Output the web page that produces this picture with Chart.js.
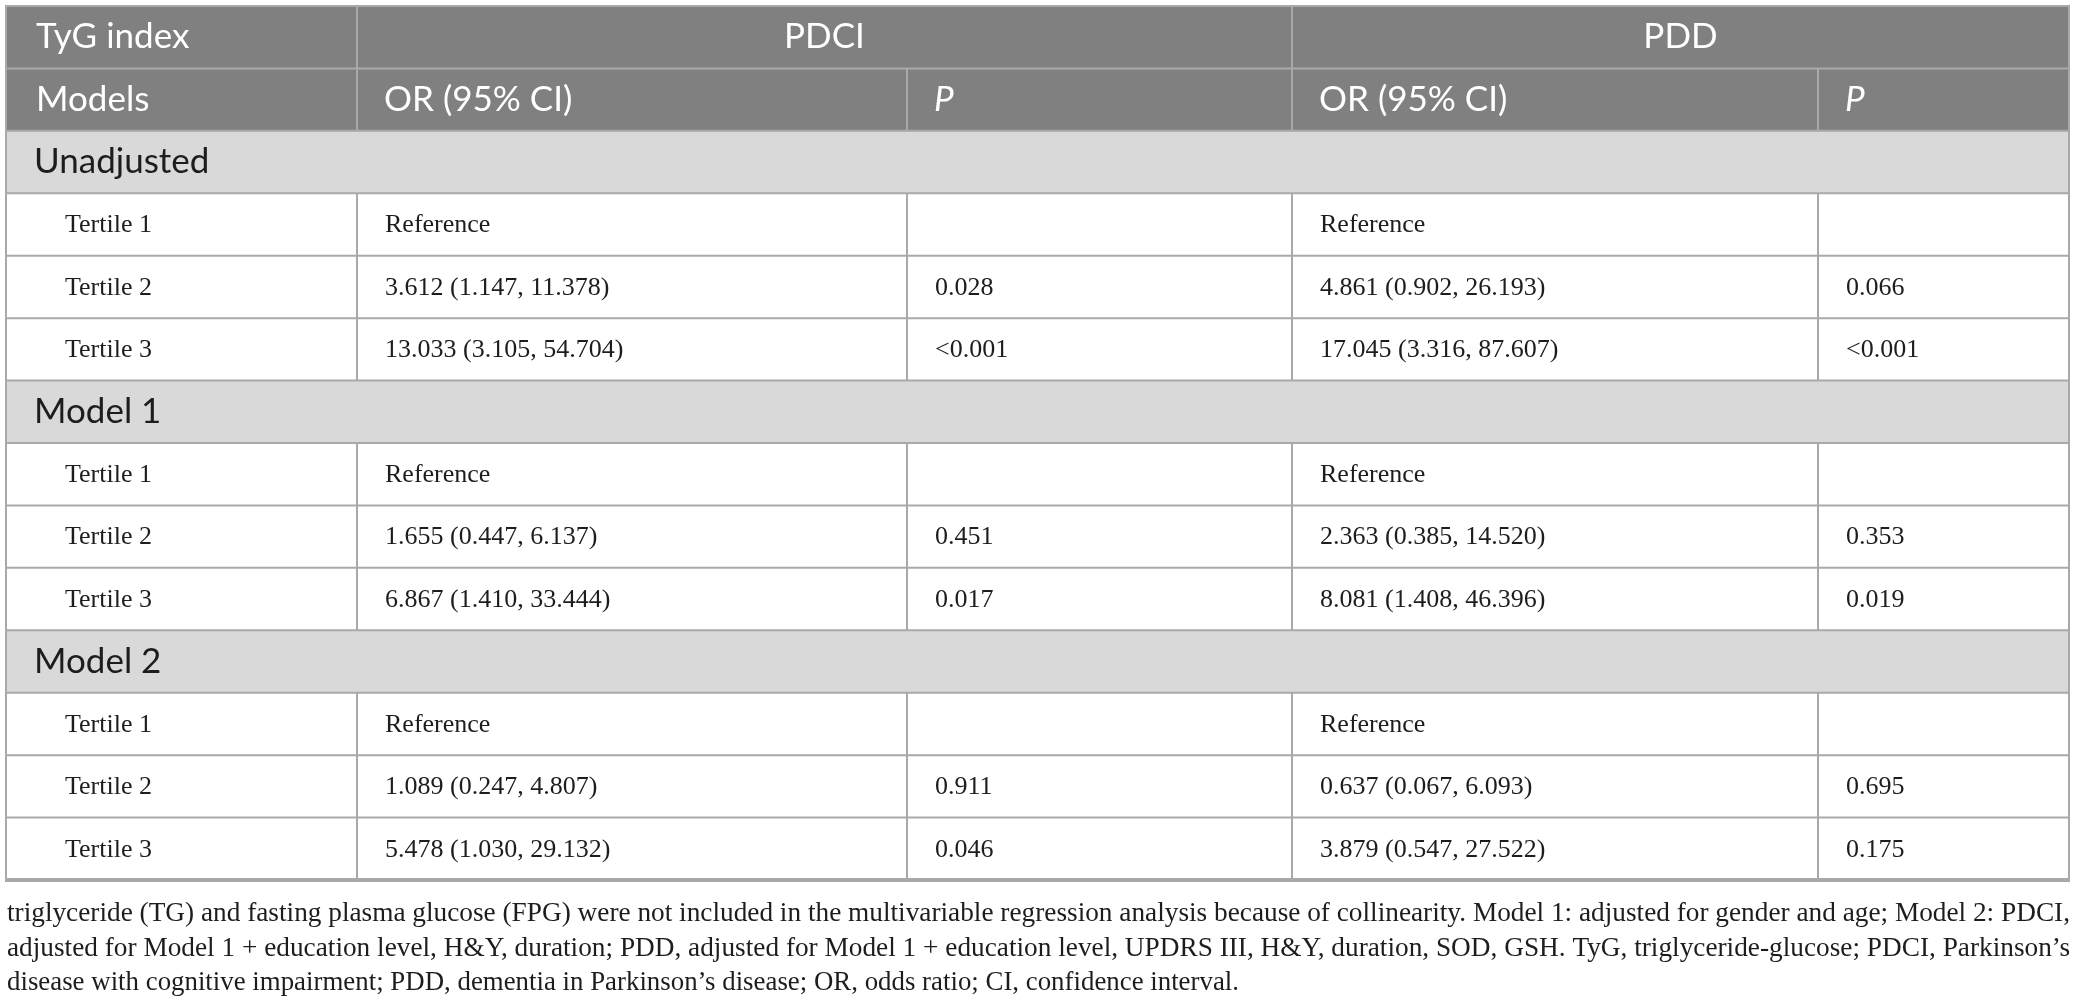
<!DOCTYPE html>
<html>
<head>
<meta charset="utf-8">
<title>TyG index - PDCI / PDD</title>
<script src="https://cdn.jsdelivr.net/npm/chart.js@4.4.1/dist/chart.umd.min.js"></script>
<style>
	html, body { margin: 0; padding: 0; background: #fff; }
	canvas { display: block; }
</style>
</head>
<body>
<canvas id="tabelaTyG" width="2078" height="1008"></canvas>
<script>
var modelos = ['Unadjusted', 'Model 1', 'Model 2'];
var tercis = ['Tertile 1', 'Tertile 2', 'Tertile 3'];

// um valor por tercil, na ordem Unadjusted T1..T3, Model 1 T1..T3, Model 2 T1..T3 (T1 = referencia)
var pdciOR = [null, 3.612, 13.033, null, 1.655, 6.867, null, 1.089, 5.478];
var pdciInf = [null, 1.147, 3.105, null, 0.447, 1.410, null, 0.247, 1.030];
var pdciSup = [null, 11.378, 54.704, null, 6.137, 33.444, null, 4.807, 29.132];
var pdciP = [null, '0.028', '<0.001', null, '0.451', '0.017', null, '0.911', '0.046'];

var pddOR = [null, 4.861, 17.045, null, 2.363, 8.081, null, 0.637, 3.879];
var pddInf = [null, 0.902, 3.316, null, 0.385, 1.408, null, 0.067, 0.547];
var pddSup = [null, 26.193, 87.607, null, 14.520, 46.396, null, 6.093, 27.522];
var pddP = [null, '0.066', '<0.001', null, '0.353', '0.019', null, '0.695', '0.175'];

var cabecalhoGrupos = ['TyG index', 'PDCI', 'PDD'];
var cabecalhoColunas = ['Models', 'OR (95% CI)', 'P', 'OR (95% CI)', 'P'];
var textoReferencia = 'Reference';

var notas = [
	'triglyceride (TG) and fasting plasma glucose (FPG) were not included in the multivariable regression analysis because of collinearity. Model 1: adjusted for gender and age; Model 2: PDCI,',
	'adjusted for Model 1 + education level, H&Y, duration; PDD, adjusted for Model 1 + education level, UPDRS III, H&Y, duration, SOD, GSH. TyG, triglyceride-glucose; PDCI, Parkinson\u2019s',
	'disease with cognitive impairment; PDD, dementia in Parkinson\u2019s disease; OR, odds ratio; CI, confidence interval.'
];

// larguras das colunas (px); a ultima linha da nota nao e justificada
var larguras = [351, 550, 385, 526, 251];
var larguraUltimaNota = 1232;
var bordas = [0];
larguras.forEach(function(l) { bordas.push(bordas[bordas.length - 1] + l); });
var total = bordas[bordas.length - 1];

var COR_CAB = '#808080';
var COR_SECAO = '#d9d9d9';
var COR_LINHA = '#a9a9a9';
var COR_TEXTO = '#1e1c1d';
var FONTE_SANS = 'Lato';
var FONTE_SERIF = '"Liberation Serif"';

function formataOR(or, inf, sup) {
	return or.toFixed(3) + ' (' + inf.toFixed(3) + ', ' + sup.toFixed(3) + ')';
}

// monta as linhas da tabela
var linhas = [{ tipo: 'cab1', rotulo: cabecalhoGrupos[0] }, { tipo: 'cab2', rotulo: cabecalhoColunas[0] }];
modelos.forEach(function(modelo, m) {
	linhas.push({ tipo: 'secao', rotulo: modelo });
	tercis.forEach(function(tercil, t) {
		var i = m * 3 + t;
		var ref = pdciOR[i] === null;
		linhas.push({
			tipo: 'dado',
			rotulo: tercil,
			celulas: [
				tercil,
				ref ? textoReferencia : formataOR(pdciOR[i], pdciInf[i], pdciSup[i]),
				ref ? '' : pdciP[i],
				ref ? textoReferencia : formataOR(pddOR[i], pddInf[i], pddSup[i]),
				ref ? '' : pddP[i]
			]
		});
	});
});

var desenhaTabela = {
	id: 'desenhaTabela',
	afterDatasetsDraw: function(chart) {
		var ctx = chart.ctx;
		var x = chart.scales.x;
		var y = chart.scales.y;
		var xs = bordas.map(function(b) { return x.getPixelForValue(b); });
		var topo = function(i) { return y.getPixelForValue(i - 0.5); };
		var base = function(i) { return y.getPixelForValue(i + 0.5); };
		var meio = function(i) { return y.getPixelForValue(i); };

		ctx.save();
		ctx.strokeStyle = COR_LINHA;
		ctx.lineWidth = 2;

		// linhas horizontais
		for (var i = 1; i < linhas.length; i++) {
			ctx.beginPath();
			ctx.moveTo(xs[0], topo(i));
			ctx.lineTo(xs[xs.length - 1], topo(i));
			ctx.stroke();
		}

		// divisorias verticais
		linhas.forEach(function(linha, i) {
			var cols = linha.tipo === 'cab1' ? [1, 3] : linha.tipo === 'secao' ? [] : [1, 2, 3, 4];
			cols.forEach(function(c) {
				ctx.beginPath();
				ctx.moveTo(xs[c], topo(i));
				ctx.lineTo(xs[c], base(i));
				ctx.stroke();
			});
		});

		// contorno
		var l = xs[0], r = xs[xs.length - 1], t = topo(0), b = base(linhas.length - 1);
		ctx.beginPath();
		ctx.moveTo(l, b); ctx.lineTo(l, t); ctx.lineTo(r, t); ctx.lineTo(r, b);
		ctx.stroke();
		ctx.lineWidth = 4;
		ctx.beginPath();
		ctx.moveTo(l - 1, b); ctx.lineTo(r + 1, b);
		ctx.stroke();

		// textos
		ctx.textBaseline = 'middle';
		linhas.forEach(function(linha, i) {
			var ym = meio(i);
			if (linha.tipo === 'cab1') {
				ctx.fillStyle = '#ffffff';
				ctx.font = '35px ' + FONTE_SANS;
				ctx.textAlign = 'left';
				ctx.fillText(cabecalhoGrupos[0], xs[0] + 30, ym);
				ctx.textAlign = 'center';
				ctx.fillText(cabecalhoGrupos[1], (xs[1] + xs[3]) / 2, ym);
				ctx.fillText(cabecalhoGrupos[2], (xs[3] + xs[5]) / 2, ym);
			} else if (linha.tipo === 'cab2') {
				ctx.fillStyle = '#ffffff';
				ctx.textAlign = 'left';
				cabecalhoColunas.forEach(function(txt, c) {
					ctx.font = (txt === 'P' ? 'italic ' : '') + '35px ' + FONTE_SANS;
					ctx.fillText(txt, xs[c] + (c === 0 ? 30 : 27), ym);
				});
			} else if (linha.tipo === 'secao') {
				ctx.fillStyle = COR_TEXTO;
				ctx.textAlign = 'left';
				ctx.font = '35px ' + FONTE_SANS;
				ctx.fillText(linha.rotulo, xs[0] + 28, ym);
			} else {
				ctx.fillStyle = COR_TEXTO;
				ctx.textAlign = 'left';
				ctx.font = '26px ' + FONTE_SERIF;
				linha.celulas.forEach(function(txt, c) {
					if (txt) ctx.fillText(txt, xs[c] + (c === 0 ? 59 : 28), ym + 1);
				});
			}
		});

		// nota de rodape, justificada na largura da tabela
		ctx.font = '27px ' + FONTE_SERIF;
		ctx.textAlign = 'left';
		ctx.textBaseline = 'alphabetic';
		ctx.fillStyle = COR_TEXTO;
		notas.forEach(function(txt, n) {
			var alvo = n < notas.length - 1 ? r - l : larguraUltimaNota;
			var f = alvo / ctx.measureText(txt).width;
			ctx.save();
			ctx.translate(l + 1, b + 41 + n * 34.5);
			ctx.scale(f, 1);
			ctx.fillText(txt, 0, 0);
			ctx.restore();
		});
		ctx.restore();
	}
};

var grafico = new Chart(document.getElementById('tabelaTyG').getContext('2d'), {
	type: 'bar',
	data: {
		labels: linhas.map(function(l) { return l.rotulo; }),
		datasets: [{
			label: 'Cabecalho',
			data: linhas.map(function(l) { return l.tipo === 'cab1' || l.tipo === 'cab2' ? [0, total] : null; }),
			backgroundColor: COR_CAB
		}, {
			label: 'Secao',
			data: linhas.map(function(l) { return l.tipo === 'secao' ? [0, total] : null; }),
			backgroundColor: COR_SECAO
		}]
	},
	options: {
		indexAxis: 'y',
		responsive: false,
		animation: false,
		events: [],
		layout: { padding: { left: 6, top: 6, right: 9, bottom: 128 } },
		datasets: {
			bar: { barPercentage: 1, categoryPercentage: 1, grouped: false, borderWidth: 0 }
		},
		scales: {
			x: { type: 'linear', display: false, min: 0, max: total },
			y: { type: 'category', display: false }
		},
		plugins: {
			legend: { display: false },
			tooltip: { enabled: false }
		}
	},
	plugins: [desenhaTabela]
});
</script>
</body>
</html>
